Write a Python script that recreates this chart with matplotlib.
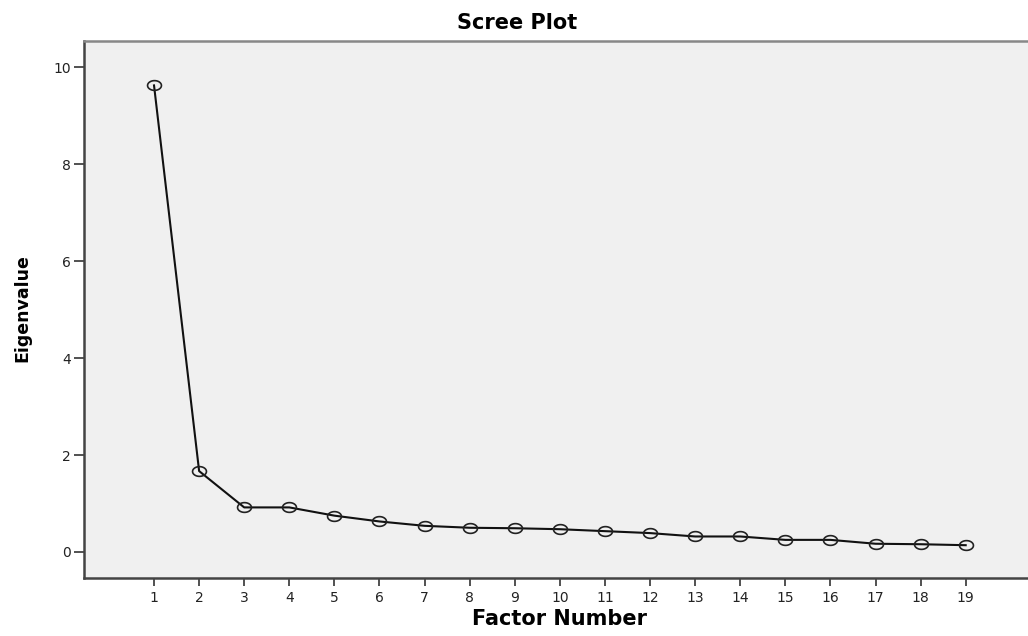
import numpy as np
import matplotlib
matplotlib.use("Agg")
import matplotlib.pyplot as plt
from matplotlib.path import Path

plt.rcParams['font.family'] = ['DejaVu Sans']

factor_numbers = list(range(1, 20))
eigenvalues = [9.63, 1.67, 0.92, 0.92, 0.75, 0.63, 0.54, 0.50, 0.49, 0.47,
               0.43, 0.39, 0.32, 0.32, 0.25, 0.25, 0.17, 0.16, 0.14]
y_ticks = [0, 2, 4, 6, 8, 10]

# slightly flattened open circle marker
t = np.linspace(0, 2 * np.pi, 60)
verts = np.column_stack([np.cos(t) * 1.0, np.sin(t) * 0.7])
ellipse = Path(verts, closed=True)

fig = plt.figure(figsize=(10.28, 6.36), dpi=100)
ax = fig.add_axes([84 / 1028, 1 - 578 / 636, 1 - 84 / 1028 + 0.003, (578 - 40.5) / 636])
ax.set_facecolor('#F0F0F0')

ax.plot(factor_numbers, eigenvalues, color='#111111', lw=1.5,
        marker=ellipse, markersize=10, markerfacecolor='none',
        markeredgecolor='#222222', markeredgewidth=1.2)

ax.set_xlim(-0.553, 20.45)
ax.set_ylim(-0.537, 10.557)
ax.set_xticks(factor_numbers)
ax.set_yticks(y_ticks)

for side in ['left', 'bottom']:
    ax.spines[side].set_color('#444444')
    ax.spines[side].set_linewidth(1.8)
ax.spines['top'].set_color('#888888')
ax.spines['top'].set_linewidth(1.8)
ax.spines['right'].set_visible(False)

ax.tick_params(axis='y', length=7.5, width=1.2, color='#333333', labelsize=10, pad=2, labelcolor='#222222')
ax.tick_params(axis='x', length=6, width=1.2, color='#333333', labelsize=10, pad=3, labelcolor='#222222')

fig.text(517 / 1028, 1 - 23 / 636, 'Scree Plot', ha='center', va='center',
         fontsize=15, fontweight='bold')
fig.text(560 / 1028, 1 - 619 / 636, 'Factor Number', ha='center', va='center',
         fontsize=15, fontweight='bold')
fig.text(22.5 / 1028, 1 - 308 / 636, 'Eigenvalue', ha='center', va='center',
         rotation=90, fontsize=12.5, fontweight='bold')

fig.savefig('out.png', dpi=100, facecolor='white')
